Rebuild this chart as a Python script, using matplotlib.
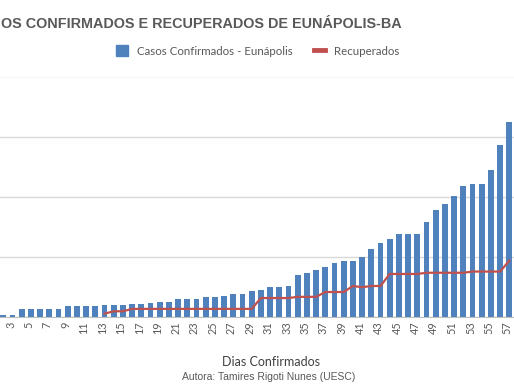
import numpy as np
import matplotlib
matplotlib.use("Agg")
import matplotlib.pyplot as plt
from matplotlib.patches import Patch
from matplotlib.lines import Line2D
from matplotlib.transforms import ScaledTranslation

# dias desde o primeiro caso confirmado
dias = list(range(1, 58))

confirmados = [1, 2, 2, 7, 7, 7, 7, 7, 9, 9,
               9, 9, 10, 10, 10, 11, 11, 12, 13, 13,
               15, 15, 15, 17, 17, 18, 19, 19, 22, 23,
               25, 25, 26, 35, 37, 39, 42, 45, 47, 47,
               50, 57, 62, 65, 69, 69, 69, 79, 89, 94,
               101, 109, 111, 111, 122, 143, 162]

# recuperados comeca no dia 13
recuperados = [None] * 12 + [3, 5, 5, 7, 7, 7, 7, 7, 7, 7,
                             7, 7, 7, 7, 7, 7, 7, 16, 16, 16,
                             16, 17, 17, 17, 21, 21, 21, 26, 25, 26,
                             26, 36, 36, 36, 36, 37, 37, 37, 37, 37,
                             38, 38, 38, 38, 47]

# the source image is cropped, only this part of the title is visible
titulo = "OS CONFIRMADOS E RECUPERADOS DE EUNÁPOLIS-BA"
nome_barras = "Casos Confirmados - Eunápolis"
nome_linha = "Recuperados"
eixo_x = "Dias Confirmados"
autora = "Autora: Tamires Rigoti Nunes (UESC)"

azul = "#4f81bd"
vermelho = "#c0504d"
cinza = "#595959"

W, H = 514, 386
fig = plt.figure(figsize=(W / 100, H / 100), dpi=100)

# plot area runs past the left and right edges like the reference crop
px = 9.2
left = -15.1 + 0.5 * px
ax = fig.add_axes([left / W, 68.7 / H, 57 * px / W, 240.8 / H])

rec = np.array([np.nan if v is None else v for v in recuperados], dtype=float)

ax.bar(dias, confirmados, width=0.65, color=azul, zorder=2)
ax.plot(dias, rec, color=vermelho, lw=1.6, zorder=3)

ax.set_xlim(0.5, 57.5)
ax.set_ylim(0, 200)
ax.set_yticks([0, 50, 100, 150, 200])
ax.yaxis.grid(True, color="#d9d9d9", lw=1)
ax.set_axisbelow(True)
ax.tick_params(axis="y", length=0, labelleft=False)

# day 1 label falls outside the crop
ax.set_xticks(dias[2::2])
ax.set_xticklabels([str(d) for d in dias[2::2]], rotation=90, fontsize=7.8,
                   color=cinza, family="Lato")
ax.tick_params(axis="x", length=0, pad=3)
shift = ScaledTranslation(-0.02, 0, fig.dpi_scale_trans)
for lbl in ax.get_xticklabels():
    lbl.set_transform(lbl.get_transform() + shift)

for s in ["top", "right", "left"]:
    ax.spines[s].set_visible(False)
ax.spines["bottom"].set_color("#bfbfbf")

fig.text(402 / W, 1 - 24 / H, titulo, ha="right", va="center",
         fontsize=10.35, fontweight="bold", color=cinza, family="Liberation Sans")

handles = [Patch(facecolor=azul, edgecolor=azul),
           Line2D([0], [0], color=vermelho, lw=3.5)]
fig.legend(handles, [nome_barras, nome_linha], ncol=2, frameon=False,
           loc="center", bbox_to_anchor=(258 / W, 1 - 51 / H),
           prop={"family": "Lato", "size": 8.3}, handlelength=1.0,
           handleheight=1.1, columnspacing=1.8, handletextpad=0.8,
           labelcolor=cinza)

fig.text(271 / W, 1 - 362 / H, eixo_x, ha="center", va="center",
         fontsize=9, color="#404040", family="Lato")
fig.text(269 / W, 1 - 377 / H, autora, ha="center", va="center",
         fontsize=7.5, color=cinza, family="Liberation Sans")

fig.savefig("out.png", dpi=100)
